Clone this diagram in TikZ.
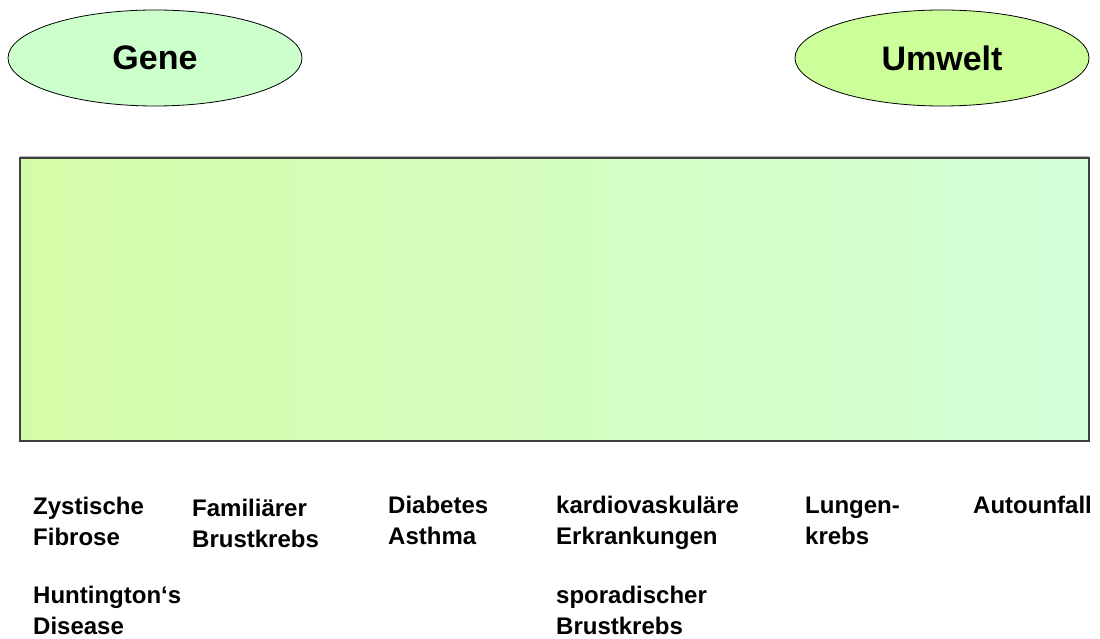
\documentclass[tikz,border=0pt]{standalone}
\usepackage{fontspec}
\setmainfont{Liberation Sans}
\usetikzlibrary{shapes.geometric}
\definecolor{genefill}{RGB}{204,255,204}
\definecolor{umweltfill}{RGB}{204,255,153}
\definecolor{barleft}{RGB}{212,252,168}
\definecolor{barright}{RGB}{212,255,216}
\tikzset{
  oval/.style={ellipse, draw=black, line width=0.8pt, minimum width=294pt, minimum height=96pt, inner sep=0pt,
    font=\fontsize{34}{40}\selectfont\bfseries},
  lbl/.style={anchor=base west, inner sep=0pt, align=left,
    font=\fontsize{24}{31}\selectfont\bfseries}
}
\begin{document}
\begin{tikzpicture}[x=1pt,y=-1pt]
\useasboundingbox (0,0) rectangle (1100,639);
\node[oval, fill=genefill] (gene) at (155,58) {\raisebox{-2pt}{Gene}};
\node[oval, fill=umweltfill] (umwelt) at (942,58) {\raisebox{-2pt}{Umwelt}};
\draw[gray!60, line width=1pt] (20,157) -- (1089,157);
\shade[left color=barleft, right color=barright] (20,158) rectangle (1089,441);
\draw[black!75, line width=1.4pt] (20,158) rectangle (1089,441);
\node[lbl] (zf) at (33,545) {Zystische\\Fibrose};
\node[lbl] (hd) at (33,634) {Huntington‘s\\Disease};
\node[lbl] (fb) at (192,547) {Familiärer\\Brustkrebs};
\node[lbl] (da) at (388,544) {Diabetes\\Asthma};
\node[lbl] (ke) at (556,544) {kardiovaskuläre\\Erkrankungen};
\node[lbl] (sb) at (556,634) {sporadischer\\Brustkrebs};
\node[lbl] (lk) at (805,544) {Lungen-\\krebs};
\node[lbl] (au) at (973,513) {Autounfall};
\end{tikzpicture}
\end{document}
